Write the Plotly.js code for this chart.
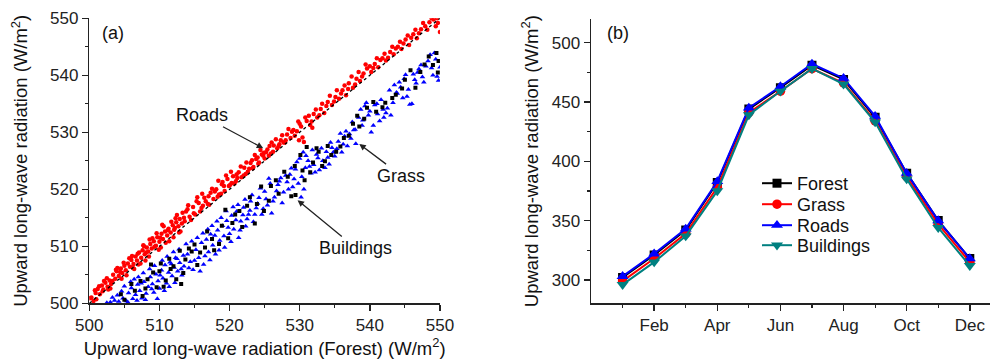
<!DOCTYPE html>
<html>
<head>
<meta charset="utf-8">
<script src="https://cdn.plot.ly/plotly-3.0.1.min.js"></script>
<style>html,body{margin:0;padding:0;background:#fff;}#chart{width:990px;height:362px;}</style>
</head>
<body>
<div id="chart"></div>
<script>
// ---- Panel (a): scatter vs Forest ----
const roadsX = [500.3,500.6,500.9,501.2,501.5,501.8,502.0,502.3,502.6,502.9,503.1,503.4,503.7,503.9,504.2,504.5,504.7,505.0,505.2,505.5,505.8,506.0,506.3,506.6,506.8,507.1,507.4,507.6,507.9,508.2,508.4,508.7,508.9,509.2,509.5,509.7,510.0,510.3,510.5,510.8,511.1,511.3,511.6,511.9,512.1,512.4,512.7,512.9,513.2,513.5,
501.0,502.1,503.0,504.0,505.3,506.1,507.0,507.8,508.5,509.0,509.9,510.6,511.4,512.3,513.0,513.8,514.3,514.8,515.1,515.6,516.0,516.4,516.9,517.3,517.7,518.1,518.5,518.9,519.3,519.7,520.1,520.5,520.9,521.3,521.7,522.1,522.6,523.0,523.4,523.8,524.2,524.6,525.0,525.4,525.9,526.3,526.8,527.3,527.7,528.2,528.7,529.1,529.6,530.0,530.4,530.6,531.0,531.5,532.0,532.5,533.0,533.5,534.0,534.6,535.1,535.6,536.1,536.6,537.0,537.6,538.1,538.6,539.1,539.6,540.2,540.7,541.2,541.8,542.3,542.9,543.4,544.0,544.5,545.1,545.6,546.2,546.7,547.3,547.9,548.5,549.1,549.6,550.0,549.7,531.8,529.9,
514.0,515.3,516.2,517.0,518.3,519.0,520.3,521.0,522.3,523.2,524.0,524.9,525.6,526.0,527.0,528.0,512.0,510.2,508.0,506.4,504.6,502.7,
500.1,500.8,501.4,501.9,502.5,503.3,503.8,504.4,504.9,505.7,506.2,506.9,507.3,507.7,508.1,508.6,509.3,509.6,510.1,510.4,510.9,511.2,511.7,512.2,512.5,512.8,513.3,513.6,514.1,514.5,514.9,515.4,515.8,516.1,516.6,517.1,517.5,517.9,518.4,518.8,519.2,519.5,519.9,520.2,520.7,521.1,521.6,522.0,522.4,522.8,523.3,523.6,524.1,524.4,524.8,525.2,525.7,526.2,526.6,527.1,527.5,527.9,528.4,528.9,529.3,529.8,530.2,530.8,531.3,531.7,532.3,532.8,533.2,533.8,534.3,534.9,535.3,535.9,536.4,536.9,537.4,537.9,538.4,538.9,539.4,540.0,540.5,541.0,541.5,542.1,542.6,543.2,543.7,544.3,544.8,545.4,545.9,546.5,547.0,547.6,548.2,548.8,549.4];
const roadsY = [501.0,500.4,501.8,502.5,501.6,503.1,502.4,503.6,502.9,504.0,503.4,505.0,504.3,505.6,504.8,506.1,505.3,506.6,505.8,507.0,506.4,507.6,506.9,508.2,507.5,508.9,508.0,509.3,508.6,509.8,509.1,510.4,509.6,510.9,510.1,511.6,510.8,512.2,511.3,512.6,511.9,513.1,512.4,513.7,512.9,514.2,513.5,514.8,514.0,515.0,
500.7,503.9,502.6,506.2,504.9,508.3,506.8,510.0,508.2,511.4,509.4,513.5,510.9,514.9,512.6,516.1,515.2,516.9,515.6,517.6,516.7,518.5,517.4,519.4,518.3,520.0,519.1,520.9,519.7,521.8,520.8,522.3,521.4,523.0,522.1,523.8,523.1,524.6,523.9,525.3,524.7,526.1,525.4,527.0,526.3,527.7,527.2,528.6,528.2,529.6,529.0,530.4,530.2,531.5,529.1,528.3,532.0,531.3,533.2,532.6,534.1,533.4,535.3,534.8,536.2,535.9,537.4,536.5,538.6,537.8,539.4,539.0,540.3,541.2,540.6,542.0,541.4,543.0,542.6,544.1,543.7,545.0,544.6,546.3,545.3,547.2,546.5,548.1,548.6,549.3,549.8,550.0,547.6,549.2,530.8,528.6,
516.5,517.9,517.1,518.8,518.7,521.3,521.1,522.6,522.7,525.1,525.6,526.4,525.9,528.2,527.6,528.6,511.6,509.8,507.5,506.0,504.3,502.4,
500.9,502.3,503.0,502.1,504.4,503.9,505.9,505.5,507.1,507.9,506.3,508.7,507.0,510.2,508.9,511.2,509.9,512.3,511.5,513.8,510.6,512.8,514.3,513.2,515.5,512.4,515.9,514.4,517.2,514.6,515.8,518.6,516.1,519.2,517.9,517.3,520.1,519.6,521.5,519.2,520.6,522.4,520.6,523.1,521.0,522.0,524.0,522.4,524.7,523.6,523.7,526.0,524.5,526.9,525.9,526.5,527.6,526.6,528.8,527.9,529.5,528.2,530.6,530.1,529.4,531.9,531.0,532.6,532.9,531.9,534.0,533.0,535.0,534.6,536.4,535.4,537.4,536.8,538.2,537.6,539.8,538.4,540.6,539.8,541.9,541.6,541.3,543.0,542.7,543.8,543.1,545.0,544.7,545.9,545.6,547.0,546.6,548.0,547.4,549.2,548.0,550.0,548.6];

const grassX = [503.0,503.6,504.2,504.8,505.3,505.6,506.0,506.2,506.6,506.9,507.2,507.5,507.8,508.1,508.4,508.7,509.0,509.2,509.5,509.8,510.0,510.3,510.5,510.8,511.0,511.3,511.5,511.8,512.1,512.3,512.6,512.9,513.2,513.5,514.0,514.4,514.8,515.2,515.6,516.0,516.3,516.7,517.0,517.3,517.6,518.0,518.3,518.6,519.0,519.3,519.6,520.0,520.3,520.6,521.0,521.3,521.6,522.0,522.3,522.7,523.0,523.4,523.8,524.2,524.6,525.0,525.4,525.8,526.0,526.4,526.9,527.3,527.7,528.2,528.6,529.0,529.4,529.8,530.0,530.2,530.5,530.8,531.2,531.6,532.0,532.4,532.8,533.3,533.8,534.2,534.6,535.0,535.5,536.0,536.4,536.8,537.3,537.7,538.0,538.4,538.9,539.3,539.8,540.2,540.7,541.1,541.6,542.0,542.5,543.0,543.5,543.9,544.4,544.9,545.3,545.7,546.2,546.6,547.0,547.5,548.0,548.6,549.0,549.4,549.8,550.0,
502.5,503.3,504.0,504.6,505.0,505.5,505.9,506.4,506.8,507.0,507.4,507.7,508.0,508.6,508.9,509.3,509.7,510.1,510.4,510.7,511.1,511.4,511.7,512.0,512.2,512.5,512.8,513.1,513.4,513.8,514.2,514.6,515.0,515.4,515.8,516.2,516.5,516.9,517.2,517.5,517.9,518.2,518.5,518.8,519.2,519.5,519.8,520.2,520.5,520.9,521.2,521.5,521.9,522.2,522.5,522.9,523.2,523.6,524.0,524.4,524.8,525.2,525.6,526.2,526.7,527.1,527.5,528.0,528.4,528.8,529.2,529.6,530.3,530.6,530.9,531.4,531.8,532.2,532.6,533.1,533.6,534.0,534.4,534.8,535.3,535.8,536.2,536.6,537.1,537.5,537.9,538.7,539.0,539.5,540.0,540.5,541.0,541.4,541.9,542.3,542.8,543.3,543.8,544.2,544.7,545.1,545.5,546.0,546.4,546.8,547.3,547.7,548.3,548.8,549.2,549.6];
const grassY = [500.2,500.5,500.3,500.9,500.4,501.8,502.7,500.8,501.5,503.3,502.2,500.9,503.8,501.7,502.9,504.6,503.4,501.9,505.1,503.9,502.6,505.8,504.4,506.7,503.5,505.4,507.2,504.8,506.3,508.0,505.6,507.1,504.9,506.5,508.6,507.3,505.9,509.4,508.0,510.6,506.8,511.2,509.0,512.1,510.2,508.6,512.8,511.0,513.6,509.8,514.5,512.2,515.4,513.0,516.1,511.5,514.4,516.8,513.5,515.6,517.9,514.3,516.7,518.5,515.6,519.6,517.2,521.0,515.8,518.6,520.8,522.0,519.5,521.3,522.6,520.4,523.5,521.0,525.4,518.6,526.5,523.8,525.0,522.8,524.3,526.1,523.4,525.0,526.6,524.4,527.3,525.8,528.4,526.5,529.3,527.6,528.9,530.4,528.0,532.6,531.2,534.6,533.0,530.0,534.8,533.2,535.7,532.6,534.2,533.0,538.3,536.8,537.9,539.4,536.3,534.9,540.2,538.6,541.1,539.7,541.6,543.6,540.0,542.8,539.1,541.4,
500.1,501.0,501.4,502.1,503.0,500.2,503.8,504.2,500.5,504.6,503.5,505.3,500.6,506.0,502.5,506.6,500.8,504.9,507.5,502.2,508.2,502.9,506.9,509.0,503.6,507.8,509.5,506.0,508.4,510.4,506.2,510.9,507.5,511.5,505.6,512.3,508.3,513.0,507.6,513.6,511.9,514.4,509.3,515.0,511.8,516.2,513.3,510.8,516.9,514.6,517.3,512.8,515.5,518.2,514.8,516.3,519.0,515.6,517.5,520.2,516.6,518.3,521.9,517.9,519.7,521.4,517.6,522.4,520.0,523.7,521.8,524.8,522.2,520.0,525.9,524.0,526.9,523.0,525.5,527.2,523.8,525.6,528.2,526.5,527.1,529.8,527.9,530.2,529.7,531.8,530.5,534.0,532.1,535.2,533.7,531.2,535.0,532.0,534.0,533.4,537.4,535.2,537.0,538.8,536.0,540.1,537.5,535.0,539.2,540.5,541.8,538.8,542.5,541.3,543.9,539.8];

const buildX = [505.0,506.5,507.6,508.3,509.1,509.6,510.2,510.9,511.6,512.4,513.1,513.7,514.6,515.4,516.5,517.5,518.5,519.4,520.4,521.4,522.5,523.6,524.5,525.6,526.6,527.8,528.8,529.4,530.4,531.0,531.9,532.7,533.6,534.5,535.8,537.0,538.2,539.2,540.5,541.8,543.2,544.6,545.8,547.2,548.4,549.5,549.7,
504.5,506.0,507.3,508.0,508.8,510.0,510.6,511.4,512.0,512.9,513.4,514.2,515.0,515.8,516.8,517.8,518.9,519.8,520.8,521.8,522.9,523.9,524.9,525.9,527.0,528.3,529.3,530.1,530.7,531.5,532.4,533.2,534.0,535.2,536.3,537.6,538.5,539.6,540.9,542.2,543.7,545.0,546.5,547.8,549.0,549.8];
const buildY = [500.6,502.2,501.3,504.2,505.4,502.8,507.0,504.0,506.0,504.2,503.4,507.7,509.1,506.7,509.8,511.3,510.4,516.4,514.1,516.2,517.1,514.0,520.5,518.0,521.6,523.1,518.8,519.0,523.3,527.4,524.7,526.6,524.9,526.0,527.5,529.4,532.9,532.4,535.3,534.4,536.0,537.7,540.9,540.6,543.3,543.9,540.5,
501.6,503.4,503.9,502.6,506.8,505.6,502.9,507.8,506.5,509.2,505.3,509.6,510.3,508.9,512.6,509.3,513.6,511.4,515.6,513.4,518.6,517.4,516.2,520.6,519.2,522.2,524.1,526.0,521.6,523.0,527.2,524.1,527.6,526.6,529.0,531.5,531.0,534.3,533.6,535.2,536.6,539.2,537.8,541.9,541.8,542.5];

const oneToOne = [500, 550];

// ---- Panel (b): monthly means ----
const months = [1,2,3,4,5,6,7,8,9,10,11,12];
const monthTickVals = [2,4,6,8,10,12];
const monthTickText = ["Feb","Apr","Jun","Aug","Oct","Dec"];
const monthMinorVals = [1,3,5,7,9,11];
const forest    = [302,321,342,382,444,462,481,469,437,390,350,318];
const grass     = [299,318,339,378,441,459,478,466,434,387,347,315];
const roads     = [303,322,343,383,445,463,482,470,438,390,350,318];
const buildings = [296,315,337,375,439,459,478,465,433,385,344,312];

const FONT = "Arial, 'Liberation Sans', sans-serif";
const AX = '#222';
const TXT = '#111';

const traces = [
  {x: roadsX, y: roadsY, type:'scatter', mode:'markers', xaxis:'x', yaxis:'y', showlegend:false,
   marker:{color:'#ff0000', size:4.5, symbol:'circle'}},
  {x: grassX, y: grassY, type:'scatter', mode:'markers', xaxis:'x', yaxis:'y', showlegend:false,
   marker:{color:'#0000ff', size:5, symbol:'triangle-up'}},
  {x: buildX, y: buildY, type:'scatter', mode:'markers', xaxis:'x', yaxis:'y', showlegend:false,
   marker:{color:'#000000', size:4, symbol:'square'}},
  {x: oneToOne, y: oneToOne, type:'scatter', mode:'lines', xaxis:'x', yaxis:'y', showlegend:false,
   line:{color:'#000', width:1.3, dash:'dot'}},

  {x: months, y: forest, name:'Forest', legend:'legend', type:'scatter', mode:'lines+markers', xaxis:'x2', yaxis:'y2',
   line:{color:'#000000', width:2}, marker:{symbol:'square', size:9, color:'#000000'}},
  {x: months, y: grass, name:'Grass', legend:'legend2', type:'scatter', mode:'lines+markers', xaxis:'x2', yaxis:'y2',
   line:{color:'#ff0000', width:2}, marker:{symbol:'circle', size:9.5, color:'#ff0000'}},
  {x: months, y: roads, name:'Roads', legend:'legend3', type:'scatter', mode:'lines+markers', xaxis:'x2', yaxis:'y2',
   line:{color:'#0000ff', width:2}, marker:{symbol:'triangle-up', size:10.5, color:'#0000ff'}},
  {x: months, y: buildings, name:'Buildings', legend:'legend4', type:'scatter', mode:'lines+markers', xaxis:'x2', yaxis:'y2',
   line:{color:'#008080', width:2}, marker:{symbol:'triangle-down', size:10.5, color:'#008080'}}
];

const axisCommon = {
  showline:true, linecolor:AX, linewidth:1.5, showgrid:false, zeroline:false,
  ticks:'outside', ticklen:6, tickwidth:1.5, tickcolor:AX,
  tickfont:{family:FONT, size:17, color:AX}
};
const titleFont = {family:FONT, size:18.5, color:TXT};
function leg(yTop){
  return {x:757/990, y:yTop, xanchor:'left', yanchor:'top', bgcolor:'rgba(0,0,0,0)',
    font:{family:FONT, size:18, color:TXT}, itemwidth:30};
}

const layout = {
  width:990, height:362,
  margin:{l:0, r:0, t:0, b:0},
  paper_bgcolor:'#fff', plot_bgcolor:'#fff',
  font:{family:FONT, size:17, color:TXT},
  showlegend:true,
  xaxis: Object.assign({}, axisCommon, {
    domain:[0.0902, 0.4444], range:[500,550], anchor:'y', dtick:10, tick0:500,
    minor:{dtick:5, ticklen:3, tickwidth:1.2, ticks:'outside', tickcolor:AX},
    title:{text:'Upward long-wave radiation (Forest) (W/m<sup>2</sup>)', font:titleFont, standoff:5}
  }),
  yaxis: Object.assign({}, axisCommon, {
    domain:[0.1622, 0.9494], range:[500,550], anchor:'x', dtick:10, tick0:500,
    minor:{dtick:5, ticklen:3, tickwidth:1.2, ticks:'outside', tickcolor:AX},
    title:{text:'Upward long-wave radiation (W/m<sup>2</sup>)', font:titleFont, standoff:17}
  }),
  xaxis2: Object.assign({}, axisCommon, {
    domain:[0.597, 1.0], range:[0,12.64], anchor:'y2',
    tickmode:'array', tickvals:monthTickVals, ticktext:monthTickText,
    minor:{tickmode:'array', tickvals:monthMinorVals, ticklen:3, tickwidth:1.2, ticks:'outside', tickcolor:AX}
  }),
  yaxis2: Object.assign({}, axisCommon, {
    domain:[0.1622, 0.9475], range:[280.3,519.9], anchor:'x2', dtick:50, tick0:300,
    minor:{dtick:25, ticklen:3, tickwidth:1.2, ticks:'outside', tickcolor:AX},
    title:{text:'Upward long-wave radiation (W/m<sup>2</sup>)', font:titleFont, standoff:8}
  }),
  legend:  leg(1-165/362),
  legend2: leg(1-186/362),
  legend3: leg(1-207/362),
  legend4: leg(1-227/362),
  annotations:[
    {text:'(a)', xref:'paper', yref:'paper', x:113/990, y:1-33/362, xanchor:'center', yanchor:'middle', showarrow:false, font:{family:FONT, size:18, color:TXT}},
    {text:'(b)', xref:'paper', yref:'paper', x:618/990, y:1-33/362, xanchor:'center', yanchor:'middle', showarrow:false, font:{family:FONT, size:18, color:TXT}},
    {text:'Roads', xref:'x', yref:'y', x:524.8, y:527.2, axref:'x', ayref:'y', ax:516.0, ay:533.0,
     showarrow:true, arrowhead:2, arrowsize:1, arrowwidth:1.3, arrowcolor:'#222', font:{family:FONT, size:18, color:TXT}},
    {text:'Grass', xref:'x', yref:'y', x:538.5, y:527.95, axref:'x', ayref:'y', ax:544.5, ay:522.4,
     showarrow:true, arrowhead:2, arrowsize:1, arrowwidth:1.3, arrowcolor:'#222', font:{family:FONT, size:18, color:TXT}},
    {text:'Buildings', xref:'x', yref:'y', x:529.7, y:518.1, axref:'x', ayref:'y', ax:538.0, ay:509.7,
     showarrow:true, arrowhead:2, arrowsize:1, arrowwidth:1.3, arrowcolor:'#222', font:{family:FONT, size:18, color:TXT}}
  ]
};

Plotly.newPlot('chart', traces, layout, {displayModeBar:false, staticPlot:true});
</script>
</body>
</html>
